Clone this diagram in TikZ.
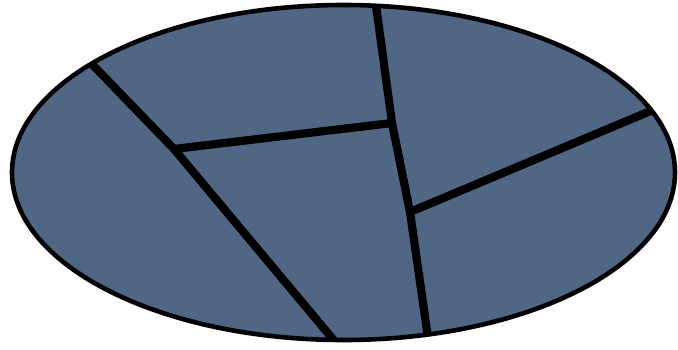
\documentclass[tikz,border=0pt]{standalone}
\usepackage{xcolor}
\usepackage{tikz}
\definecolor{slate}{RGB}{79,103,132}

\begin{document}
\begin{tikzpicture}[x=1pt, y=-1pt, rim/.style={draw=black, line width=4.6pt}, crack/.style={draw=black, line width=8.2pt}]
  \useasboundingbox (0,0) rectangle (678,349);
  \coordinate (c) at (343.5,172.5);
  % joints inside the disc
  \coordinate (ja) at (174,149);
  \coordinate (jb) at (392,123);
  \coordinate (jc) at (410,212);
  % ends beyond the rim (clipped)
  \coordinate (ea) at (86,58);
  \coordinate (eb) at (337,344);
  \coordinate (ec) at (375,-2);
  \coordinate (ed) at (429,345);
  \coordinate (ee) at (660,107);
  \fill[slate] (c) ellipse [x radius=331.5, y radius=167.5];
  \begin{scope}
    \clip (c) ellipse [x radius=331.5, y radius=167.5];
    \draw[crack] (ea) -- (ja) -- (eb);
    \draw[crack] (ja) -- (jb);
    \draw[crack] (ec) -- (jb) -- (jc) -- (ed);
    \draw[crack] (jc) -- (ee);
  \end{scope}
  \draw[rim] (c) ellipse [x radius=331.5, y radius=167.5];
\end{tikzpicture}
\end{document}
